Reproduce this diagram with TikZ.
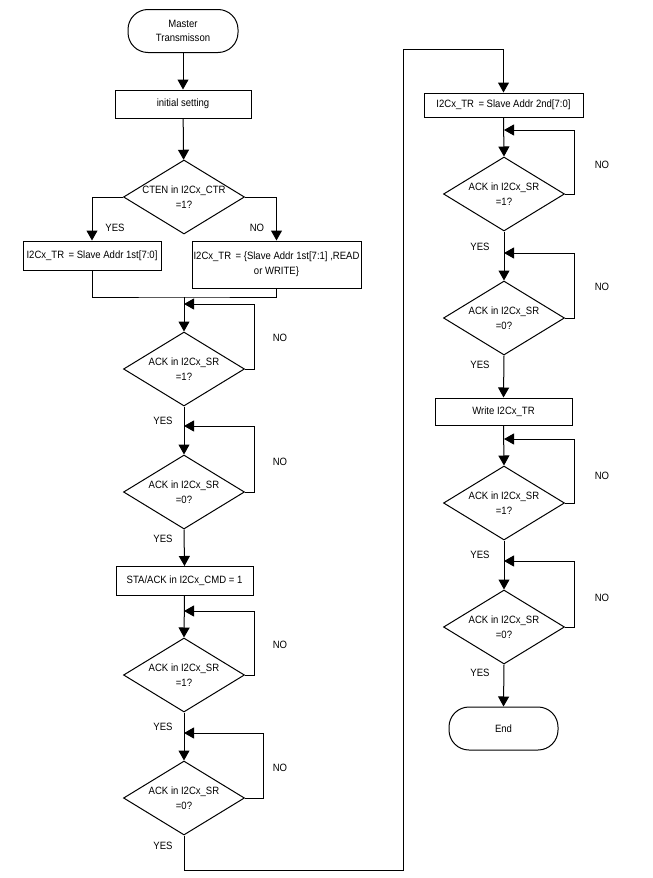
\documentclass[tikz,border=0pt]{standalone}
\usepackage{fontspec}
\setmainfont{Liberation Sans}[FakeStretch=0.9]
\usetikzlibrary{shapes.geometric,arrows.meta}

\begin{document}
\begin{tikzpicture}[x=1pt,y=-1pt,
  font=\fontsize{10.6}{14.5}\selectfont,
  every path/.style={line width=1pt},
  arr/.style={-{Triangle[length=10pt,width=11pt]}},
  terminal/.style={draw,rounded corners=20pt,align=center,inner sep=0pt},
  procbox/.style={draw,rectangle,align=center,inner sep=0pt},
  decision/.style={draw,diamond,aspect=1.63,inner sep=0pt,align=center,
    minimum width=121pt,minimum height=74pt},
  lbl/.style={inner sep=0pt}]
\useasboundingbox (0,0) rectangle (653,878);

% ---- left column ----
\node[terminal,minimum width=110pt,minimum height=43pt] (start) at (183,31) {Master\\Transmisson};
\node[procbox,minimum width=136pt,minimum height=28pt] (init) at (183,104) {initial setting};
\node[decision] (cten) at (184,197) {CTEN in I2Cx\_CTR\\=1?};
\node[procbox,minimum width=138pt,minimum height=29pt] (yesbox) at (92,255.5) {I2Cx\_TR \,= Slave Addr 1st[7:0]};
\node[procbox,minimum width=169pt,minimum height=47pt] (nobox) at (276.5,264.5) {I2Cx\_TR \,= \{Slave Addr 1st[7:1] ,READ\\or WRITE\}};
\coordinate (m) at (184,297);

\node[decision] (d1) at (184,369) {ACK in I2Cx\_SR\\=1?};
\node[decision] (d2) at (184,492) {ACK in I2Cx\_SR\\=0?};
\node[procbox,minimum width=137pt,minimum height=29pt] (sta) at (184.5,581) {STA/ACK in I2Cx\_CMD = 1};
\node[decision] (d3) at (184,675) {ACK in I2Cx\_SR\\=1?};
\node[decision] (d4) at (184,798) {ACK in I2Cx\_SR\\=0?};

\coordinate (j1) at (184,304);
\coordinate (j2) at (184,426);
\coordinate (j3) at (184,611);
\coordinate (j4) at (184,733);
\coordinate (c1) at (403,870);
\coordinate (c2) at (403,49);

% ---- right column ----
\node[procbox,minimum width=159pt,minimum height=24pt] (box2) at (503.5,105) {I2Cx\_TR \,= Slave Addr 2nd[7:0]};
\node[decision] (d5) at (504,194) {ACK in I2Cx\_SR\\=1?};
\node[decision] (d6) at (504,318) {ACK in I2Cx\_SR\\=0?};
\node[procbox,minimum width=137pt,minimum height=27pt] (wr) at (503.5,411.5) {Write I2Cx\_TR};
\node[decision] (d7) at (504,503) {ACK in I2Cx\_SR\\=1?};
\node[decision] (d8) at (504,627) {ACK in I2Cx\_SR\\=0?};
\node[terminal,minimum width=109pt,minimum height=43pt] (end) at (503.5,728.5) {End};

\coordinate (j5) at (504,130);
\coordinate (j6) at (504,253);
\coordinate (j7) at (504,439);
\coordinate (j8) at (504,561);

% ---- main flow ----
\draw[arr] (start) -- (init);
\draw[arr] (init) -- (cten);
\draw[arr] (cten.west) -| (yesbox.north);
\draw[arr] (cten.east) -| (nobox.north);
\draw (yesbox.south) |- (m) -| (nobox.south);
\draw[arr] (m) -- (d1.north);
\draw[arr] (d1.south) -- (d2.north);
\draw[arr] (d2.south) -- (sta.north);
\draw[arr] (sta.south) -- (d3.north);
\draw[arr] (d3.south) -- (d4.north);
\draw[arr] (d4.south) |- (c1) -- (c2) -| (box2.north);
\draw[arr] (box2.south) -- (d5.north);
\draw[arr] (d5.south) -- (d6.north);
\draw[arr] (d6.south) -- (wr.north);
\draw[arr] (wr.south) -- (d7.north);
\draw[arr] (d7.south) -- (d8.north);
\draw[arr] (d8.south) -- (end.north);

% ---- wait loops (NO) ----
\draw[arr] (d1.east) -- ++(9,0) |- (j1);
\draw[arr] (d2.east) -- ++(9,0) |- (j2);
\draw[arr] (d3.east) -- ++(9,0) |- (j3);
\draw[arr] (d4.east) -- ++(18,0) |- (j4);
\draw[arr] (d5.east) -- ++(9,0) |- (j5);
\draw[arr] (d6.east) -- ++(9,0) |- (j6);
\draw[arr] (d7.east) -- ++(9,0) |- (j7);
\draw[arr] (d8.east) -- ++(9,0) |- (j8);

% ---- labels ----
\node[lbl] (ly0) at (115,228) {YES};
\node[lbl] (ln0) at (257,228) {NO};
\node[lbl] (ln1) at (280,338) {NO};
\node[lbl] (ly1) at (163,421) {YES};
\node[lbl] (ln2) at (280,462) {NO};
\node[lbl] (ly2) at (163,539) {YES};
\node[lbl] (ln3) at (280,645) {NO};
\node[lbl] (ly3) at (163,727) {YES};
\node[lbl] (ln4) at (280,768) {NO};
\node[lbl] (ly4) at (163,846) {YES};
\node[lbl] (ln5) at (602,165) {NO};
\node[lbl] (ly5) at (480,247) {YES};
\node[lbl] (ln6) at (602,287) {NO};
\node[lbl] (ly6) at (480,365) {YES};
\node[lbl] (ln7) at (602,476) {NO};
\node[lbl] (ly7) at (480,555) {YES};
\node[lbl] (ln8) at (602,598) {NO};
\node[lbl] (ly8) at (480,673) {YES};
\end{tikzpicture}
\end{document}
